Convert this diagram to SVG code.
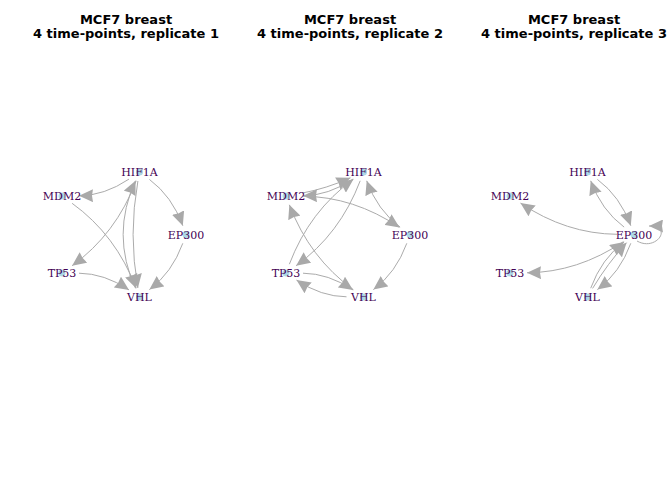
<svg xmlns="http://www.w3.org/2000/svg" width="672" height="480" viewBox="0 0 672 480">
<style>
.title{font-family:"DejaVu Sans",sans-serif;font-weight:bold;font-size:13px;fill:#000;text-anchor:middle}
.e{fill:none;stroke:#ABABAB;stroke-width:1;marker-end:url(#arr)}
.v{fill:#ADD8E6}
.lb{font-family:"DejaVu Serif",serif;font-size:11px;fill:#440154;text-anchor:middle}
</style>
<defs>
<marker id="arr" viewBox="0 0 14 13" refX="14" refY="6.5" markerWidth="14" markerHeight="13" markerUnits="userSpaceOnUse" orient="auto">
<path d="M0,0 L14,6.5 L0,13 L1,6.5 Z" fill="#A9A9A9"/>
</marker>
</defs>
<rect width="672" height="480" fill="#fff"/>
<g id="titles">
<text class="title" x="126" y="23.5">MCF7 breast</text>
<text class="title" x="126" y="38">4 time-points, replicate 1</text>
<text class="title" x="350" y="23.5">MCF7 breast</text>
<text class="title" x="350" y="38">4 time-points, replicate 2</text>
<text class="title" x="574" y="23.5">MCF7 breast</text>
<text class="title" x="574" y="38">4 time-points, replicate 3</text>
</g>
<g id="connectors">
<path class="e" d="M129,179.1 Q104.4,195.6 79,195.8"/>
<path class="e" d="M149.4,179.4 Q172.1,196.3 182.8,225.7"/>
<path class="e" d="M136.2,180.8 Q115.9,234.1 72.1,265.7"/>
<path class="e" d="M135.5,288.3 Q110.75,234.5 135.5,180.7"/>
<path class="e" d="M137.9,181 Q128.25,234.5 137.9,288"/>
<path class="e" d="M72.1,203.3 Q115.9,234.9 136.15,288.2"/>
<path class="e" d="M79,273.2 Q104.35,273.4 129,289.9"/>
<path class="e" d="M182.8,243.3 Q172.1,272.7 149.4,289.6"/>

<path class="e" d="M353,179.1 Q328.4,195.6 303,195.8"/>
<path class="e" d="M302,193.1 Q326.2,188.65 350.5,177.8"/>
<path class="e" d="M400.1,227.1 Q377.4,210.2 366.7,180.8"/>
<path class="e" d="M303,196.2 Q353.8,196.65 399.5,227.4"/>
<path class="e" d="M406.8,243.3 Q396.1,272.7 373.4,289.6"/>
<path class="e" d="M360.2,180.8 Q339.9,234.1 296.1,265.7"/>
<path class="e" d="M289.35,264.2 Q309.6,210.9 353.45,179.25"/>
<path class="e" d="M353.45,289.75 Q309.6,258.1 289.35,204.8"/>
<path class="e" d="M303,273.2 Q328.35,273.4 353,289.9"/>
<path class="e" d="M346.5,296.8 Q321.15,296.6 296.5,280.1"/>

<path class="e" d="M624.1,227.1 Q601.4,210.2 590.7,180.8"/>
<path class="e" d="M597.4,179.4 Q620.1,196.3 630.8,225.7"/>
<path class="e" d="M617,234.3 Q566.2,233.85 520.5,203.1"/>
<path class="e" d="M623.5,241.6 Q577.8,272.35 527,272.8"/>
<path class="e" d="M630.8,243.3 Q620.1,272.7 597.4,289.6"/>
<path class="e" d="M590.7,288.2 Q601.4,258.8 624.1,241.9"/>
<path class="e" d="M592.6,288.4 Q607.6,263.4 626.6,242.6"/>
<path class="e" d="M637,241 C656,252 674,226 649,226"/>
</g>
<g id="p1-HIF1A"><circle class="v" cx="139.5" cy="172" r="3.5"/><text class="lb" x="139.5" y="176">HIF1A</text></g>
<g id="p1-MDM2"><circle class="v" cx="62" cy="196" r="3.5"/><text class="lb" x="62" y="200">MDM2</text></g>
<g id="p1-EP300"><circle class="v" cx="186" cy="234.5" r="3.5"/><text class="lb" x="186" y="238.5">EP300</text></g>
<g id="p1-TP53"><circle class="v" cx="62" cy="273" r="3.5"/><text class="lb" x="62" y="277">TP53</text></g>
<g id="p1-VHL"><circle class="v" cx="139.5" cy="297" r="3.5"/><text class="lb" x="139.5" y="301">VHL</text></g>

<g id="p2-HIF1A"><circle class="v" cx="363.5" cy="172" r="3.5"/><text class="lb" x="363.5" y="176">HIF1A</text></g>
<g id="p2-MDM2"><circle class="v" cx="286" cy="196" r="3.5"/><text class="lb" x="286" y="200">MDM2</text></g>
<g id="p2-EP300"><circle class="v" cx="410" cy="234.5" r="3.5"/><text class="lb" x="410" y="238.5">EP300</text></g>
<g id="p2-TP53"><circle class="v" cx="286" cy="273" r="3.5"/><text class="lb" x="286" y="277">TP53</text></g>
<g id="p2-VHL"><circle class="v" cx="363.5" cy="297" r="3.5"/><text class="lb" x="363.5" y="301">VHL</text></g>

<g id="p3-HIF1A"><circle class="v" cx="587.5" cy="172" r="3.5"/><text class="lb" x="587.5" y="176">HIF1A</text></g>
<g id="p3-MDM2"><circle class="v" cx="510" cy="196" r="3.5"/><text class="lb" x="510" y="200">MDM2</text></g>
<g id="p3-EP300"><circle class="v" cx="634" cy="234.5" r="3.5"/><text class="lb" x="634" y="238.5">EP300</text></g>
<g id="p3-TP53"><circle class="v" cx="510" cy="273" r="3.5"/><text class="lb" x="510" y="277">TP53</text></g>
<g id="p3-VHL"><circle class="v" cx="587.5" cy="297" r="3.5"/><text class="lb" x="587.5" y="301">VHL</text></g>
</svg>
